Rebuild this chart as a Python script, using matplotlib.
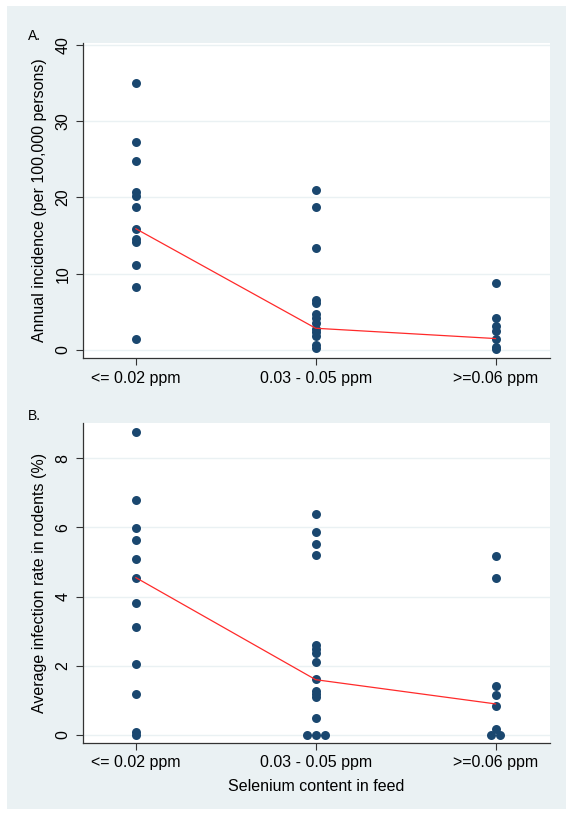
import matplotlib
matplotlib.use("Agg")
import matplotlib.pyplot as plt
from matplotlib.patches import Rectangle
import numpy as np

plt.rcParams['font.family'] = ['Liberation Sans', 'DejaVu Sans']

categories = ["<= 0.02 ppm", "0.03 - 0.05 ppm", ">=0.06 ppm"]

# Panel A: annual incidence (per 100,000 persons)
a_low = [35.0, 27.3, 24.8, 20.7, 20.2, 18.8, 15.9, 14.6, 14.2, 11.1, 8.2, 1.4]
a_mid = [21.0, 18.8, 13.4, 6.6, 6.2, 4.7, 4.2, 3.5, 2.8, 2.3, 1.8, 0.7, 0.2]
a_high = [8.8, 4.25, 3.1, 2.5, 1.5, 0.4, 0.1]
a_line = [15.9, 2.85, 1.5]
a_ticks = [0, 10, 20, 30, 40]

# Panel B: average infection rate in rodents (%)
b_low = [8.75, 6.78, 5.98, 5.65, 5.09, 4.55, 3.81, 3.13, 2.04, 1.2, 0.1, 0.0]
b_mid = [6.39, 5.87, 5.51, 5.2, 2.6, 2.5, 2.38, 2.1, 1.61, 1.27, 1.18, 1.09, 0.48, 0.0, 0.0, 0.0]
b_high = [5.17, 4.53, 1.42, 1.16, 0.85, 0.17, 0.0, 0.0]
b_line = [4.55, 1.6, 0.9]
b_ticks = [0, 2, 4, 6, 8]

BG = '#eaf1f3'
GRID = '#eaf1f3'
NAVY = '#1a476f'
FS = 11.5

W, H = 572, 814
fig = plt.figure(figsize=(W / 100, H / 100), dpi=100)
fig.patch.set_facecolor('white')
fig.patches.append(Rectangle((7 / W, 5 / H), (566 - 7) / W, (808 - 5) / H,
                             transform=fig.transFigure, facecolor=BG,
                             edgecolor='none', zorder=-10))


def spread(vals):
    """x offsets for exactly duplicated values (side by side)."""
    offs = np.zeros(len(vals))
    vals = np.asarray(vals)
    for v in np.unique(vals):
        idx = np.where(vals == v)[0]
        n = len(idx)
        if n > 1:
            for k, i in enumerate(idx):
                offs[i] = (k - (n - 1) / 2) * 0.05
    return offs


def panel(rect, groups, line, ticks, ylim, ylabel, letter, show_xlabel):
    ax = fig.add_axes(rect)
    ax.set_facecolor('white')
    for i, g in enumerate(groups):
        x = (i + 1) + spread(g)
        ax.scatter(x, g, s=42, color=NAVY, zorder=3, linewidths=0)
    ax.plot([1, 2, 3], line, color='#ff2a2a', lw=0.9, zorder=4)
    ax.set_xlim(0.706, 3.30)
    ax.set_ylim(*ylim)
    ax.set_xticks([1, 2, 3])
    ax.set_xticklabels(categories, fontsize=FS)
    ax.set_yticks(ticks)
    ax.set_yticklabels([str(t) for t in ticks], rotation=90, va='center',
                       fontsize=FS)
    ax.grid(axis='y', color=GRID, lw=1.0, zorder=0)
    for s in ['top', 'right']:
        ax.spines[s].set_visible(False)
    for s in ['left', 'bottom']:
        ax.spines[s].set_color('#333333')
        ax.spines[s].set_linewidth(0.9)
    ax.tick_params(axis='both', direction='out', length=5, width=0.8,
                   color='#333333', pad=4)
    ax.set_ylabel(ylabel, fontsize=FS, labelpad=6)
    if show_xlabel:
        ax.set_xlabel("Selenium content in feed", fontsize=FS, labelpad=6)
    ax.set_axisbelow(True)
    fig.text(28 / W, rect[1] + rect[3] + 0.5 / H, letter, fontsize=10,
             ha='left', va='bottom')
    return ax


panel([83 / W, 1 - 358 / H, 466.5 / W, 315 / H],
      [a_low, a_mid, a_high], a_line, a_ticks, (-1.05, 40.26),
      "Annual incidence (per 100,000 persons)", "A.", False)
panel([83 / W, 1 - 743 / H, 466.5 / W, 320 / H],
      [b_low, b_mid, b_high], b_line, b_ticks, (-0.23, 9.02),
      "Average infection rate in rodents (%)", "B.", True)

fig.savefig("out.png", dpi=100, facecolor='white')
